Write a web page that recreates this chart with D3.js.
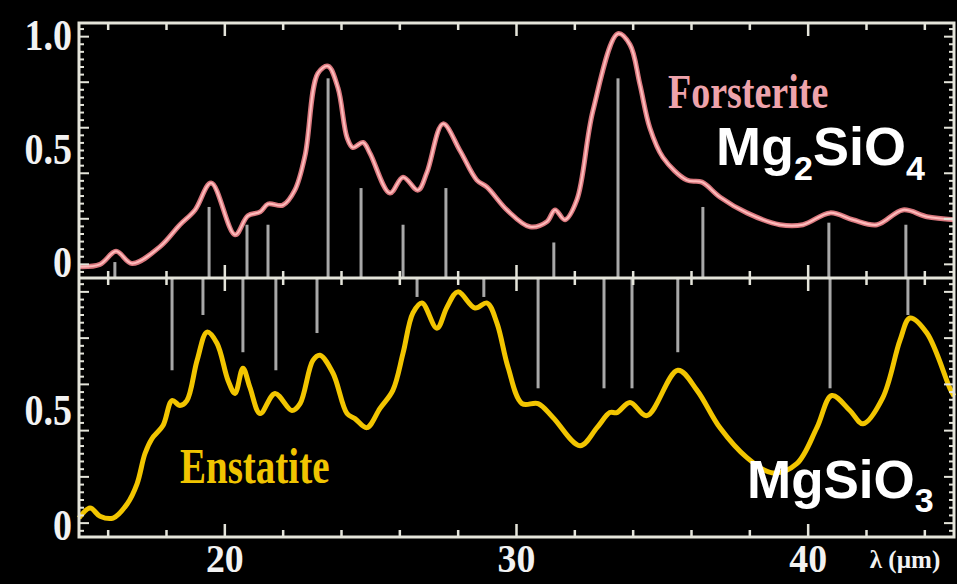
<!DOCTYPE html>
<html>
<head>
<meta charset="utf-8">
<script src="https://cdn.jsdelivr.net/npm/d3@7"></script>
<style>
  html, body { margin: 0; padding: 0; background: #000; }
  svg { display: block; }
</style>
</head>
<body>
<svg id="chart" width="957" height="584"></svg>
<script>
// forsterite (Mg2SiO4) spectrum, wavelength in micron
const forstLambda = [15.00, 15.72, 16.27, 16.82, 17.78, 18.46, 18.98, 19.53, 20.35, 20.79, 21.21, 21.48, 21.99, 22.40, 22.75, 23.19, 23.54, 23.88, 24.19, 24.39, 24.74, 24.98, 25.66, 26.11, 26.62, 26.93, 27.48, 28.06, 28.64, 28.99, 29.67, 30.46, 31.04, 31.32, 31.66, 32.07, 32.62, 33.48, 33.89, 34.23, 34.57, 35.02, 35.84, 36.36, 36.97, 37.90, 39.03, 39.82, 40.75, 41.53, 42.36, 43.25, 44.07, 45.00];
const forstValue  = [-0.01, 0.00, 0.057, 0.004, 0.078, 0.174, 0.239, 0.357, 0.13, 0.213, 0.23, 0.265, 0.26, 0.326, 0.478, 0.839, 0.87, 0.774, 0.557, 0.513, 0.535, 0.487, 0.313, 0.383, 0.326, 0.404, 0.617, 0.5, 0.37, 0.339, 0.239, 0.165, 0.187, 0.239, 0.196, 0.283, 0.674, 1.013, 0.965, 0.791, 0.6, 0.47, 0.37, 0.361, 0.296, 0.226, 0.174, 0.174, 0.226, 0.196, 0.174, 0.239, 0.209, 0.196];
// forsterite band positions (sticks rising from the panel floor)
const forstBandLambda = [16.23, 19.46, 20.76, 21.48, 23.54, 24.67, 26.11, 27.58, 31.28, 33.48, 36.39, 40.71, 43.35];
const forstBandTop    = [0.01, 0.252, 0.174, 0.174, 0.817, 0.335, 0.174, 0.335, 0.096, 0.817, 0.252, 0.183, 0.174];

// enstatite (MgSiO3) spectrum
const enstLambda = [15.00, 15.38, 15.72, 16.17, 16.65, 16.99, 17.26, 17.50, 17.88, 18.19, 18.46, 18.70, 19.05, 19.39, 19.73, 20.11, 20.35, 20.62, 20.86, 21.21, 21.72, 22.30, 22.58, 23.02, 23.26, 23.71, 24.19, 24.46, 24.87, 25.32, 25.76, 26.11, 26.45, 26.76, 27.27, 27.62, 27.99, 28.58, 28.99, 29.33, 29.71, 30.19, 30.74, 31.25, 32.18, 32.76, 33.20, 33.44, 33.89, 34.47, 35.53, 36.19, 36.97, 37.90, 38.79, 39.61, 40.30, 40.81, 41.43, 41.88, 42.56, 43.15, 43.49, 44.07, 44.86, 45.00];
const enstValue  = [0.022, 0.065, 0.030, 0.022, 0.083, 0.17, 0.30, 0.365, 0.422, 0.53, 0.509, 0.53, 0.704, 0.826, 0.778, 0.617, 0.561, 0.67, 0.587, 0.474, 0.561, 0.487, 0.517, 0.704, 0.726, 0.648, 0.474, 0.452, 0.413, 0.496, 0.574, 0.735, 0.909, 0.952, 0.843, 0.935, 1.0, 0.93, 0.952, 0.865, 0.674, 0.517, 0.517, 0.457, 0.335, 0.413, 0.478, 0.478, 0.522, 0.465, 0.661, 0.574, 0.413, 0.283, 0.217, 0.257, 0.413, 0.552, 0.487, 0.43, 0.543, 0.791, 0.887, 0.822, 0.583, 0.55];
// enstatite band positions (sticks hanging from the panel top)
const enstBandLambda = [18.19, 19.25, 20.62, 21.75, 23.16, 26.59, 28.88, 30.74, 33.00, 33.96, 35.53, 40.75, 43.42];
const enstBandEnd    = [0.661, 0.9, 0.739, 0.661, 0.822, 0.978, 0.978, 0.583, 0.583, 0.583, 0.739, 0.583, 0.9];

const xTickLabels = [20, 30, 40];
const topYLabels = ["0", "0.5", "1.0"];
const bottomYLabels = ["0", "0.5"];

const svg = d3.select("#chart");
const W = 957, H = 584;
svg.append("rect").attr("width", W).attr("height", H).attr("fill", "#000");

const plotLeft = 79, plotRight = 954, plotTop = 23, plotMid = 278, plotBottom = 537;
const frameColor = "#e4e4da";

const x = d3.scaleLinear().domain([15, 45]).range([plotLeft, plotRight]);
const yTop = d3.scaleLinear().domain([-0.06, 1.06]).range([plotMid, plotTop]);
const yBot = d3.scaleLinear().domain([-0.06, 1.06]).range([plotBottom, plotMid]);

// band sticks
svg.append("g").selectAll("line")
    .data(forstBandLambda)
    .enter().append("line")
    .attr("x1", d => x(d)).attr("x2", d => x(d))
    .attr("y1", yTop(-0.06))
    .attr("y2", (d, i) => yTop(forstBandTop[i]))
    .attr("stroke", "#a8a8a8")
    .attr("stroke-width", 3);

svg.append("g").selectAll("line")
    .data(enstBandLambda)
    .enter().append("line")
    .attr("x1", d => x(d)).attr("x2", d => x(d))
    .attr("y1", yBot(1.06))
    .attr("y2", (d, i) => yBot(enstBandEnd[i]))
    .attr("stroke", "#a8a8a8")
    .attr("stroke-width", 3);

// spectra
const forstLine = d3.line()
    .x(d => x(d[0])).y(d => yTop(d[1]))
    .curve(d3.curveCatmullRom.alpha(0.5));
const enstLine = d3.line()
    .x(d => x(d[0])).y(d => yBot(d[1]))
    .curve(d3.curveCatmullRom.alpha(0.5));

const forstPts = d3.zip(forstLambda, forstValue);
const enstPts = d3.zip(enstLambda, enstValue);

svg.append("path").datum(forstPts)
    .attr("d", forstLine).attr("fill", "none")
    .attr("stroke", "#d9787e").attr("stroke-width", 5);
svg.append("path").datum(forstPts)
    .attr("d", forstLine).attr("fill", "none")
    .attr("stroke", "#ffbcbc").attr("stroke-width", 2);

svg.append("path").datum(enstPts)
    .attr("d", enstLine).attr("fill", "none")
    .attr("stroke", "#f2c500").attr("stroke-width", 5)
    .attr("stroke-linejoin", "round");

// frame
const frame = svg.append("g").attr("stroke", frameColor).attr("fill", "none");
frame.append("rect")
    .attr("x", plotLeft).attr("y", plotTop)
    .attr("width", plotRight - plotLeft).attr("height", plotBottom - plotTop)
    .attr("stroke-width", 3);
frame.append("line")
    .attr("x1", plotLeft).attr("x2", plotRight)
    .attr("y1", plotMid).attr("y2", plotMid)
    .attr("stroke-width", 3);

// x ticks every 2 micron, longer every 10
const xTicks = d3.range(16, 45, 2);
const tlen = d => (d % 10 === 0 ? 13 : 7);
const tickG = svg.append("g").attr("stroke", frameColor).attr("stroke-width", 2.5);
xTicks.forEach(t => {
    const px = x(t);
    tickG.append("line").attr("x1", px).attr("x2", px).attr("y1", plotTop).attr("y2", plotTop + tlen(t));
    tickG.append("line").attr("x1", px).attr("x2", px).attr("y1", plotMid - tlen(t)).attr("y2", plotMid + tlen(t));
    tickG.append("line").attr("x1", px).attr("x2", px).attr("y1", plotBottom).attr("y2", plotBottom - tlen(t));
});

// y ticks: minor every 1/30, major every 0.2
const yTicks = d3.range(-1, 32).map(i => i / 30).filter(v => v > -0.06 && v < 1.06);
const ylen = v => (Math.abs(v * 5 - Math.round(v * 5)) < 1e-6 ? 10 : 5);
[yTop, yBot].forEach(sc => {
    yTicks.forEach(v => {
        const py = sc(v);
        tickG.append("line").attr("x1", plotLeft).attr("x2", plotLeft + ylen(v)).attr("y1", py).attr("y2", py).attr("stroke-width", 2);
        tickG.append("line").attr("x1", plotRight).attr("x2", plotRight - ylen(v)).attr("y1", py).attr("y2", py).attr("stroke-width", 2);
    });
});

// tick labels
const serif = "'Liberation Serif', 'DejaVu Serif', serif";
function label(px, py, txt, opts) {
    const g = svg.append("g").attr("transform", `translate(${px},${py}) scale(${opts.sx || 1},${opts.sy || 1})`);
    return g.append("text")
        .attr("text-anchor", opts.anchor || "start")
        .attr("font-family", opts.family || serif)
        .attr("font-weight", "bold")
        .attr("font-size", opts.size)
        .attr("fill", opts.fill || "#f2f2f2")
        .text(txt);
}

xTickLabels.forEach(t => {
    label(x(t), 572, String(t), { anchor: "middle", size: 36, sx: 1.05, sy: 1.12 });
});
topYLabels.forEach(s => {
    const py = Math.max(yTop(+s) + 13, 40);
    label(72, py, s, { anchor: "end", size: 38, sy: 1.15 });
});
bottomYLabels.forEach(s => {
    label(72, yBot(+s) + 17, s, { anchor: "end", size: 38, sy: 1.15 });
});
label(905, 568, "λ (µm)", { anchor: "middle", size: 25, sx: 1.0, sy: 1.0 });

// series names
label(668, 108, "Forsterite", { size: 38, sy: 1.3, fill: "#eea3ab" });
label(180, 483, "Enstatite", { size: 39, sy: 1.3, fill: "#f0c400" });

// formulas
const sans = "'Liberation Sans', Arial, sans-serif";
const f1 = svg.append("text").attr("x", 716).attr("y", 165)
    .attr("font-family", sans).attr("font-weight", "bold")
    .attr("font-size", 54).attr("fill", "#fff");
f1.append("tspan").text("Mg");
f1.append("tspan").attr("font-size", 34).attr("dy", 15).text("2");
f1.append("tspan").attr("dy", -15).text("SiO");
f1.append("tspan").attr("font-size", 34).attr("dy", 15).text("4");

const f2 = svg.append("text").attr("x", 747).attr("y", 498)
    .attr("font-family", sans).attr("font-weight", "bold")
    .attr("font-size", 53).attr("fill", "#fff");
f2.append("tspan").text("MgSiO");
f2.append("tspan").attr("font-size", 34).attr("dy", 14).text("3");
</script>
</body>
</html>
